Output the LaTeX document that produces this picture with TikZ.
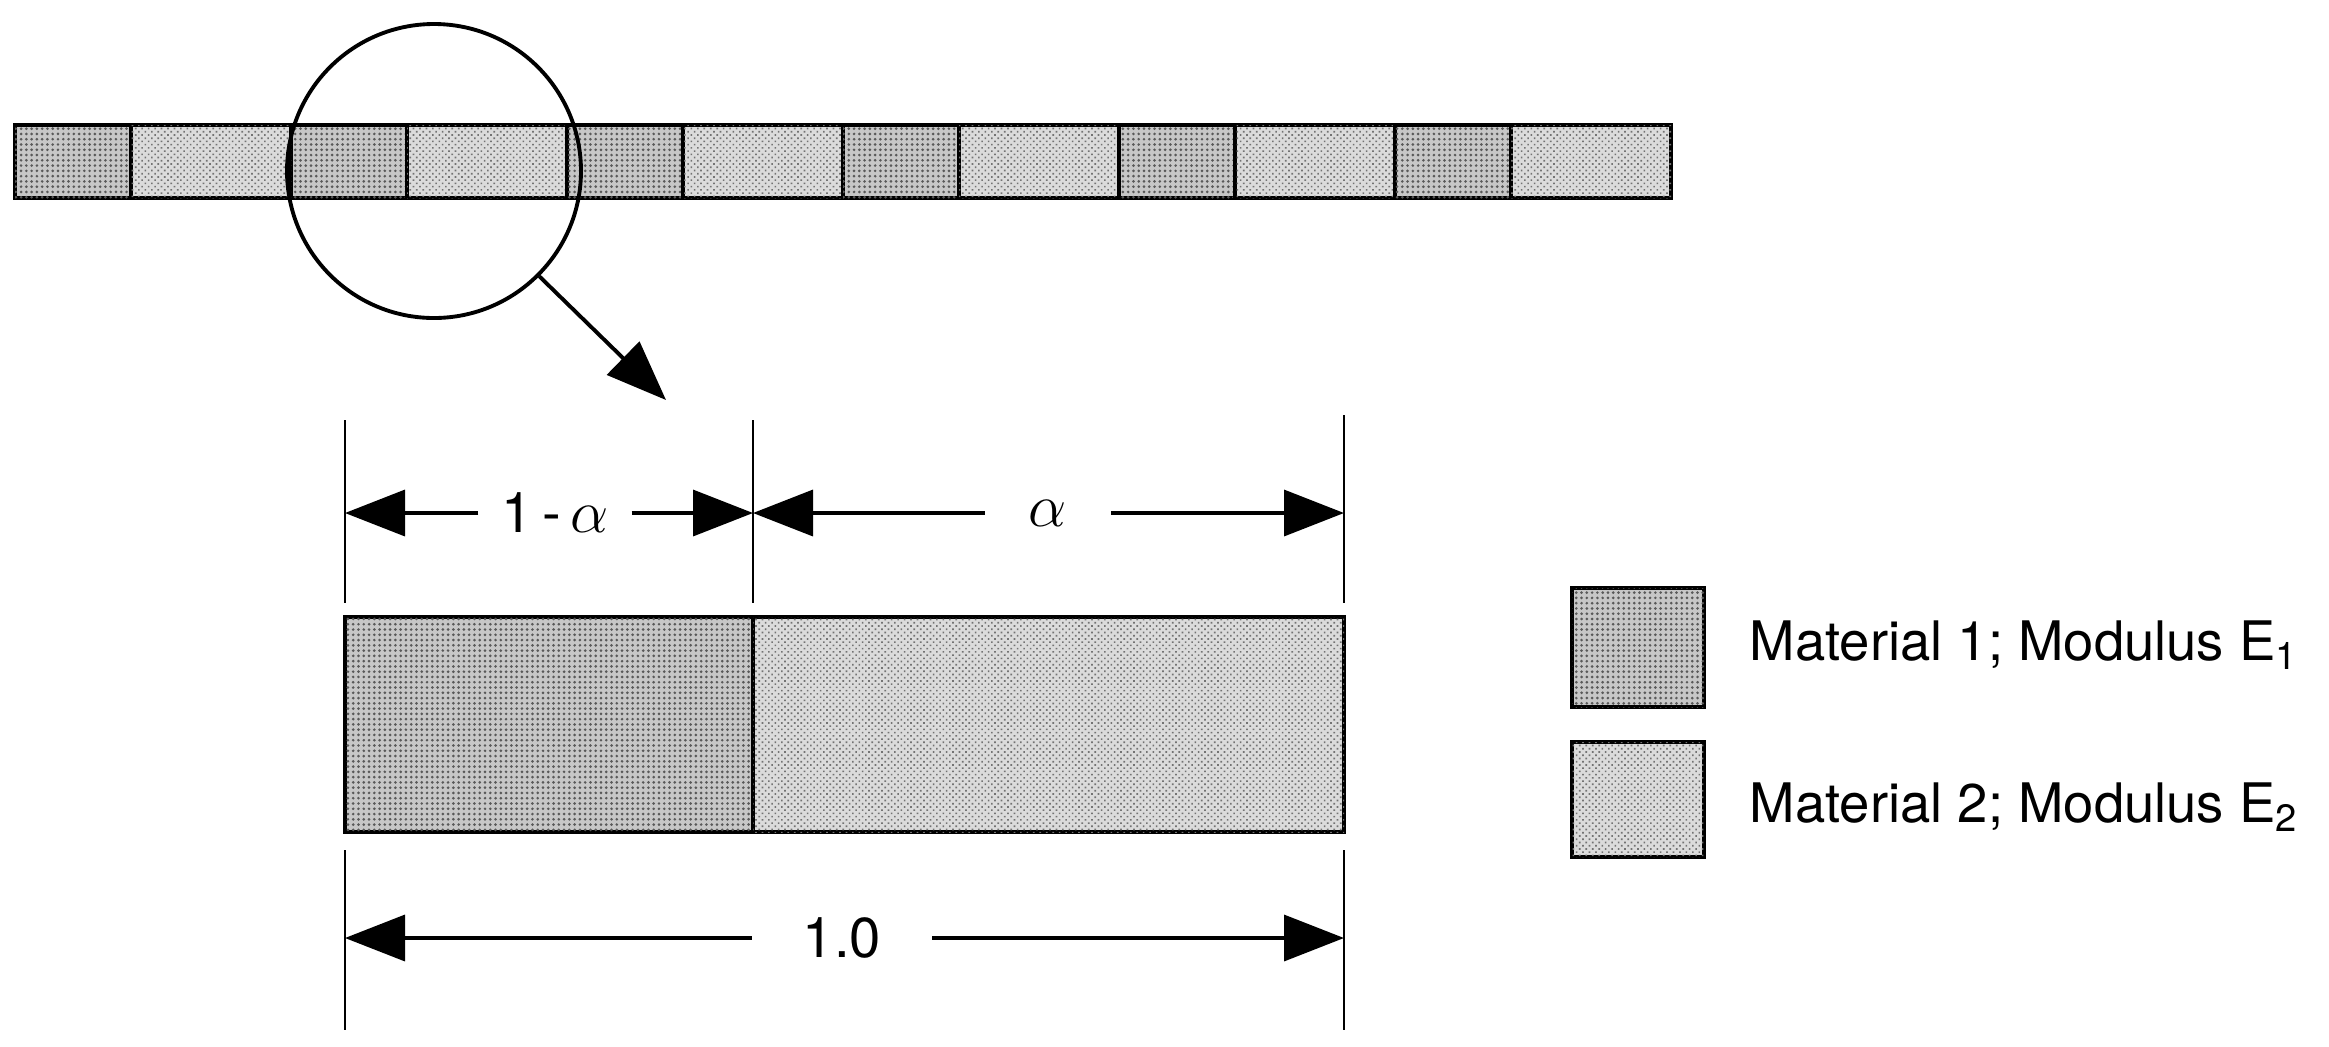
\documentclass[tikz,border=0pt]{standalone}
\usepackage{fontspec}
\setmainfont{TeX Gyre Heros}
\usetikzlibrary{arrows.meta,patterns.meta}
\tikzset{
  matone/.style={draw,line width=1.1pt,fill=black!22,
    postaction={pattern={Dots[distance=1.5pt,radius=0.42pt]},pattern color=black!65}},
  mattwo/.style={draw,line width=1.1pt,fill=black!14,
    postaction={pattern={Dots[distance=1.3pt,radius=0.33pt,angle=45]},pattern color=black!55}},
  extline/.style={line width=0.8pt},
  dimarr/.style={line width=1pt,-{Triangle[length=6mm,width=4.6mm]}},
  dimlbl/.style={inner sep=0pt,minimum height=5mm,font=\fontsize{16}{19}\selectfont},
  legtext/.style={anchor=base west,inner sep=0pt,font=\fontsize{15.5}{18}\selectfont}
}
\begin{document}
\begin{tikzpicture}[x=0.1mm,y=-0.1mm]
        \useasboundingbox (0,0) rectangle (2329,1046);
        % bar of alternating materials
        \foreach \i in {0,...,5}{
          \draw[matone] ({15+276*\i},125) rectangle ++(116,73);
          \draw[mattwo] ({131+276*\i},125) rectangle ++(160,73);
        }
        \node[draw,circle,line width=1.1pt,minimum size=29.4mm,inner sep=0pt] (lens) at (434,171) {};
        \coordinate (tip) at (666,400);
        \draw[line width=1.1pt,-{Triangle[length=6mm,width=4.6mm]}] (lens.-45) -- (tip);
        % enlarged cell
        \draw[matone] (345,617) rectangle (753,832);
        \draw[mattwo] (753,617) rectangle (1344,832);
        \draw[extline] (345,420) -- (345,603);  \draw[extline] (753,420) -- (753,603);
        \draw[extline] (1344,415) -- (1344,603);
        \draw[extline] (345,850) -- (345,1030); \draw[extline] (1344,850) -- (1344,1030);
        \coordinate (a1) at (345,513); \coordinate (a2) at (753,513); \coordinate (a3) at (1344,513);
        \coordinate (b1) at (345,938); \coordinate (b2) at (1344,938);
        \node[dimlbl,minimum width=15.2mm] (oma) at (555,513) {1\,-\,$\alpha$};
        \node[dimlbl,minimum width=12.5mm] (alf) at (1048,513) {$\alpha$};
        \node[dimlbl,minimum width=17.9mm] (one) at (842,938) {1.0};
        \draw[dimarr] (oma.west) -- (a1); \draw[dimarr] (oma.east) -- (a2);
        \draw[dimarr] (alf.west) -- (a2); \draw[dimarr] (alf.east) -- (a3);
        \draw[dimarr] (one.west) -- (b1); \draw[dimarr] (one.east) -- (b2);
        % legend
        \draw[matone] (1572,588) rectangle (1704,707);
        \draw[mattwo] (1572,742) rectangle (1704,857);
        \node[legtext] (leg1) at (1749,660) {Material 1; Modulus E\textsubscript{1}};
        \node[legtext] (leg2) at (1749,822) {Material 2; Modulus E\textsubscript{2}};
\end{tikzpicture}
\end{document}
